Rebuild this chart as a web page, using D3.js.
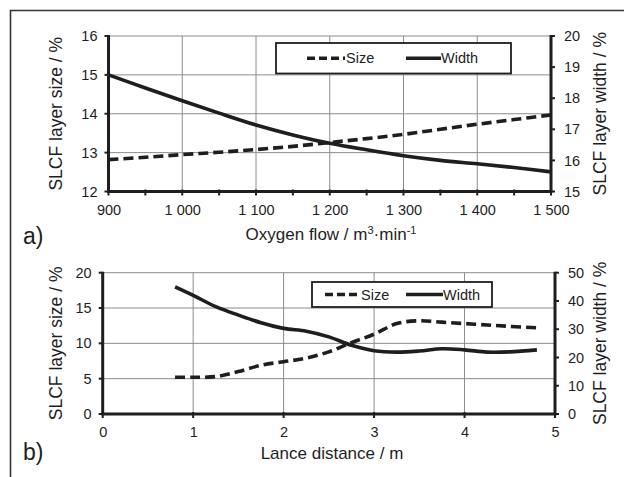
<!DOCTYPE html>
<html>
<head>
<meta charset="utf-8">
<script src="https://cdn.jsdelivr.net/npm/d3@7"></script>
<style>
  html, body { margin: 0; padding: 0; background: #fff; }
  svg { display: block; font-family: "Liberation Sans", Arial, sans-serif; }
</style>
</head>
<body>
<svg id="fig" width="624" height="477"></svg>
<script>
// Panel a) — oxygen flow sweep
const oxygenFlow = [900, 950, 1000, 1050, 1100, 1150, 1200, 1250, 1300, 1350, 1400, 1450, 1500];
const sizeA  = [12.82, 12.88, 12.95, 13.01, 13.08, 13.16, 13.26, 13.36, 13.47, 13.60, 13.73, 13.85, 13.97];
const widthA = [18.75, 18.33, 17.92, 17.52, 17.14, 16.82, 16.55, 16.34, 16.15, 16.00, 15.89, 15.77, 15.63];
const ticksAx = [900, 1000, 1100, 1200, 1300, 1400, 1500];
const ticksAyL = [12, 13, 14, 15, 16];
const ticksAyR = [15, 16, 17, 18, 19, 20];

// Panel b) — lance distance sweep
const lanceDist = [0.8, 1.0, 1.25, 1.5, 1.75, 2.0, 2.25, 2.5, 2.75, 3.0, 3.25, 3.5, 3.75, 4.0, 4.25, 4.5, 4.8];
const sizeB  = [5.2, 5.2, 5.3, 6.0, 6.9, 7.4, 7.9, 8.8, 10.1, 11.3, 12.8, 13.2, 13.0, 12.8, 12.6, 12.4, 12.2];
const widthB = [45, 42, 38, 35, 32.3, 30.3, 29.3, 27.3, 24.3, 22.4, 21.9, 22.3, 23.1, 22.7, 21.9, 22.0, 22.7];
const ticksBx = [0, 1, 2, 3, 4, 5];
const ticksByL = [0, 5, 10, 15, 20];
const ticksByR = [0, 10, 20, 30, 40, 50];

const seriesNames = ["Size", "Width"];

const INK = "#1e1e1e";
const GRID = "#8c8c8c";
const svg = d3.select("#fig");

const spaceFmt = d3.formatLocale({ decimal: ",", thousands: " ", grouping: [3], currency: ["", ""] }).format(",");
const intFmt = d3.format("d");

// outer frame (top and left edges)
svg.append("path")
  .attr("d", "M10.5,477 L10.5,10.5 L624,10.5")
  .attr("fill", "none").attr("stroke", "#333").attr("stroke-width", 1.6);

function panel(cfg) {
  const g = svg.append("g");
  const x = d3.scaleLinear().domain(cfg.xDomain).range([cfg.left, cfg.right]);
  const yL = d3.scaleLinear().domain(cfg.yLDomain).range([cfg.bottom, cfg.top]);
  const yR = d3.scaleLinear().domain(cfg.yRDomain).range([cfg.bottom, cfg.top]);

  // grid
  g.append("g").selectAll("line").data(cfg.yLTicks).join("line")
    .attr("x1", cfg.left).attr("x2", cfg.right)
    .attr("y1", d => yL(d)).attr("y2", d => yL(d))
    .attr("stroke", GRID).attr("stroke-width", 1);
  g.append("g").selectAll("line").data(cfg.xTicks).join("line")
    .attr("x1", d => x(d)).attr("x2", d => x(d))
    .attr("y1", cfg.top).attr("y2", cfg.bottom)
    .attr("stroke", GRID).attr("stroke-width", 1);

  // axes via d3 axis generators
  const axB = d3.axisBottom(x).tickValues(cfg.xTicks).tickSize(0).tickPadding(13).tickFormat(cfg.xFmt);
  const axL = d3.axisLeft(yL).tickValues(cfg.yLTicks).tickSize(0).tickPadding(11).tickFormat(intFmt);
  const axR = d3.axisRight(yR).tickValues(cfg.yRTicks).tickSize(0).tickPadding(13).tickFormat(intFmt);

  const styleAxis = sel => {
    sel.select(".domain").remove();
    sel.selectAll("text").attr("fill", INK).attr("font-size", 14.5)
      .attr("font-family", "Liberation Sans, Arial, sans-serif");
  };
  g.append("g").attr("transform", `translate(0,${cfg.bottom})`).call(axB).call(styleAxis);
  g.append("g").attr("transform", `translate(${cfg.left},0)`).call(axL).call(styleAxis);
  g.append("g").attr("transform", `translate(${cfg.right},0)`).call(axR).call(styleAxis);

  // tick marks
  const tickG = g.append("g").attr("stroke", INK).attr("stroke-width", 2);
  tickG.selectAll(".tl").data(cfg.yLTicks).join("line")
    .attr("x1", cfg.left - 4).attr("x2", cfg.left).attr("y1", d => yL(d)).attr("y2", d => yL(d));
  tickG.selectAll(".tr").data(cfg.yRTicks).join("line")
    .attr("x1", cfg.right).attr("x2", cfg.right + 4).attr("y1", d => yR(d)).attr("y2", d => yR(d));
  tickG.selectAll(".tb").data(cfg.xMinor).join("line")
    .attr("x1", d => x(d)).attr("x2", d => x(d)).attr("y1", cfg.bottom - 2).attr("y2", cfg.bottom + 4);

  // axis lines
  g.append("path")
    .attr("d", `M${cfg.left},${cfg.top - 1} L${cfg.left},${cfg.bottom} L${cfg.right},${cfg.bottom} L${cfg.right},${cfg.top - 1}`)
    .attr("fill", "none").attr("stroke", INK).attr("stroke-width", 3).attr("stroke-linejoin", "miter");

  // series
  const lineL = d3.line().x((d, i) => x(cfg.xs[i])).y(d => yL(d)).curve(d3.curveCatmullRom.alpha(0.5));
  const lineR = d3.line().x((d, i) => x(cfg.xs[i])).y(d => yR(d)).curve(d3.curveCatmullRom.alpha(0.5));
  g.append("path").datum(cfg.width).attr("d", lineR)
    .attr("fill", "none").attr("stroke", INK).attr("stroke-width", 3.6);
  g.append("path").datum(cfg.size).attr("d", lineL)
    .attr("fill", "none").attr("stroke", INK).attr("stroke-width", 3.6)
    .attr("stroke-dasharray", "10,5");

  // legend
  const lg = cfg.legend;
  const L = g.append("g");
  L.append("rect").attr("x", lg.x).attr("y", lg.y).attr("width", lg.w).attr("height", lg.h)
    .attr("fill", "#fff").attr("stroke", INK).attr("stroke-width", 1.8);
  const cy = lg.y + lg.h / 2;
  L.append("line").attr("x1", lg.s1).attr("x2", lg.s1 + lg.len1).attr("y1", cy).attr("y2", cy)
    .attr("stroke", INK).attr("stroke-width", 3.6).attr("stroke-dasharray", "8,4");
  L.append("text").attr("x", lg.s1 + lg.len1 + 1).attr("y", cy + 5).text(seriesNames[0])
    .attr("font-size", 14.5).attr("fill", INK);
  L.append("line").attr("x1", lg.s2).attr("x2", lg.s2 + lg.len2).attr("y1", cy).attr("y2", cy)
    .attr("stroke", INK).attr("stroke-width", 3.6);
  L.append("text").attr("x", lg.s2 + lg.len2).attr("y", cy + 5).text(seriesNames[1])
    .attr("font-size", 14.5).attr("fill", INK);

  // axis titles
  const midY = (cfg.top + cfg.bottom) / 2;
  g.append("text").attr("transform", `translate(${cfg.titleLX},${midY}) rotate(-90)`)
    .attr("text-anchor", "middle").attr("dy", "0.35em").attr("font-size", 17.5).attr("fill", INK)
    .text(cfg.titleL);
  g.append("text").attr("transform", `translate(${cfg.titleRX},${midY}) rotate(-90)`)
    .attr("text-anchor", "middle").attr("dy", "0.35em").attr("font-size", 17.5).attr("fill", INK)
    .text(cfg.titleR);
  const xt = g.append("text").attr("x", cfg.titleXX).attr("y", cfg.titleXY)
    .attr("text-anchor", "middle").attr("font-size", 17).attr("fill", INK);
  cfg.titleX.forEach(p => {
    const t = xt.append("tspan").text(p.t);
    if (p.sup) t.attr("font-size", 11).attr("dy", p.dy);
    if (p.back) t.attr("dy", p.dy);
  });

  // panel tag
  g.append("text").attr("x", 23).attr("y", cfg.tagY).attr("font-size", 23).attr("fill", INK).text(cfg.tag);
}

panel({
  xDomain: [900, 1500], yLDomain: [12, 16], yRDomain: [15, 20],
  left: 108.5, right: 551, top: 36, bottom: 191.5,
  xTicks: ticksAx, yLTicks: ticksAyL, yRTicks: ticksAyR,
  xMinor: d3.range(900, 1501, 50), xFmt: spaceFmt,
  xs: oxygenFlow, size: sizeA, width: widthA,
  legend: { x: 276, y: 43, w: 235, h: 30.5, s1: 307, len1: 38, s2: 406, len2: 35 },
  titleL: "SLCF layer size / %", titleR: "SLCF layer width / %",
  titleLX: 56, titleRX: 600,
  titleX: [{ t: "Oxygen flow / m" }, { t: "3", sup: true, dy: -6 }, { t: "·min", back: true, dy: 6 },
           { t: "-1", sup: true, dy: -6 }],
  titleXX: 331, titleXY: 240,
  tag: "a)", tagY: 244
});

panel({
  xDomain: [0, 5], yLDomain: [0, 20], yRDomain: [0, 50],
  left: 102.7, right: 555, top: 272.7, bottom: 414,
  xTicks: ticksBx, yLTicks: ticksByL, yRTicks: ticksByR,
  xMinor: ticksBx, xFmt: intFmt,
  xs: lanceDist, size: sizeB, width: widthB,
  legend: { x: 312, y: 282, w: 180, h: 25, s1: 325, len1: 35, s2: 406, len2: 37 },
  titleL: "SLCF layer size / %", titleR: "SLCF layer width / %",
  titleLX: 56, titleRX: 600,
  titleX: [{ t: "Lance distance / m" }],
  titleXX: 332, titleXY: 459,
  tag: "b)", tagY: 460
});
</script>
</body>
</html>
